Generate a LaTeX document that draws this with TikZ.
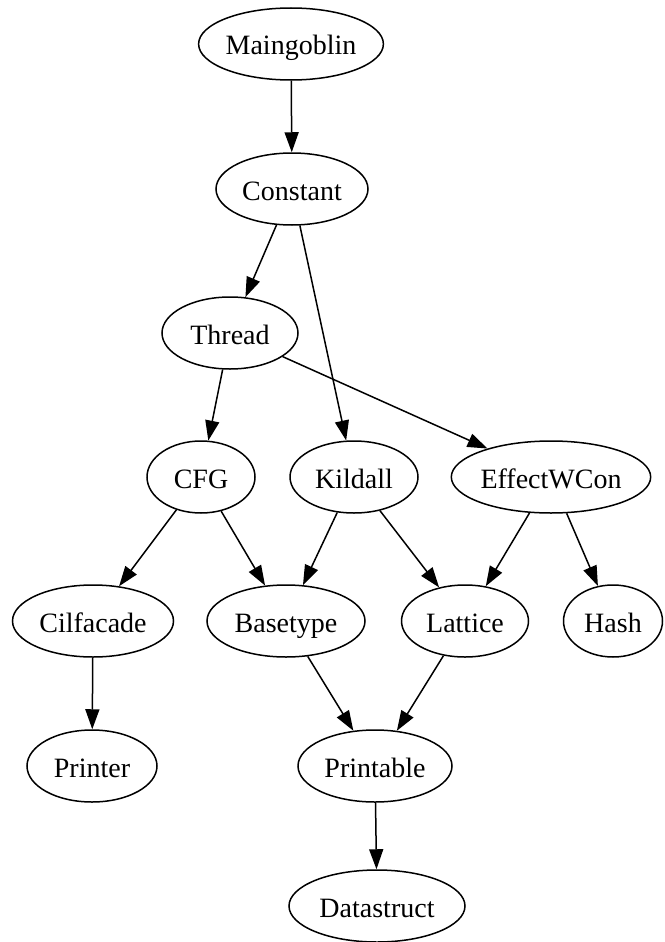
\documentclass[tikz,border=0pt]{standalone}
\usepackage{fontspec}
\setmainfont{Liberation Serif}
\usetikzlibrary{shapes.geometric,arrows.meta}
\tikzset{
  nd/.style={ellipse, draw, line width=1.5pt, inner sep=0pt, minimum height=72pt,
    text height=27pt, text depth=5pt,
    font=\fontsize{28}{32}\selectfont},
  edge/.style={draw, line width=1.5pt, -{Triangle[length=20pt,width=14pt]}}
}
\begin{document}
\begin{tikzpicture}[x=1pt,y=-1pt]
\useasboundingbox (0,0) rectangle (664,942);
\node[nd, minimum width=182pt] (maingoblin) at (291,44) {Maingoblin};
\node[nd, minimum width=152pt] (constant) at (292,189) {Constant};
\node[nd, minimum width=136pt] (thread) at (230,333) {Thread};
\node[nd, minimum width=108pt] (cfg) at (201,477) {CFG};
\node[nd, minimum width=128pt] (kildall) at (354,477) {Kildall};
\node[nd, minimum width=196pt] (effect) at (551,477) {EffectWCon};
\node[nd, minimum width=161pt] (cilfacade) at (93,621) {Cilfacade};
\node[nd, minimum width=158pt] (basetype) at (286,621) {Basetype};
\node[nd, minimum width=127pt] (lattice) at (465,621) {Lattice};
\node[nd, minimum width=99pt] (hash) at (613,621) {Hash};
\node[nd, minimum width=130pt] (printer) at (92,766) {Printer};
\node[nd, minimum width=154pt] (printable) at (375,766) {Printable};
\node[nd, minimum width=176pt] (datastruct) at (377,906) {Datastruct};
\path[edge] (maingoblin) -- (constant);
\path[edge] (constant) -- (thread);
\path[edge] (constant) -- (kildall);
\path[edge] (thread) -- (cfg);
\path[edge] (thread) -- (effect);
\path[edge] (cfg) -- (cilfacade);
\path[edge] (cfg) -- (basetype);
\path[edge] (kildall) -- (basetype);
\path[edge] (kildall) -- (lattice);
\path[edge] (effect) -- (lattice);
\path[edge] (effect) -- (hash);
\path[edge] (cilfacade) -- (printer);
\path[edge] (basetype) -- (printable);
\path[edge] (lattice) -- (printable);
\path[edge] (printable) -- (datastruct);
\end{tikzpicture}
\end{document}
